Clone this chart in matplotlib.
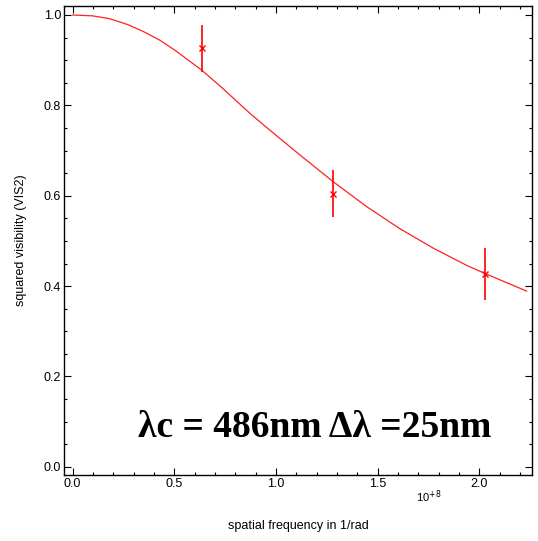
import matplotlib
matplotlib.use('Agg')
import matplotlib.pyplot as plt
from matplotlib.ticker import MultipleLocator

# model curve, spatial frequency in units of 1e8 / rad
freq_curve = [0.0, 0.10, 0.18, 0.27, 0.35, 0.43, 0.51, 0.635, 0.725, 0.873,
              1.0, 1.119, 1.282, 1.446, 1.610, 1.774, 1.938, 2.028, 2.233]
vis2_curve = [1.000, 0.998, 0.992, 0.979, 0.963, 0.944, 0.920, 0.878, 0.843, 0.782,
              0.734, 0.690, 0.631, 0.576, 0.527, 0.484, 0.446, 0.428, 0.389]

# measured points with error bars
freq_obs = [0.635, 1.282, 2.028]
vis2_obs = [0.926, 0.604, 0.427]
vis2_err = [0.052, 0.052, 0.057]

plt.rcParams['font.family'] = ['Liberation Sans', 'DejaVu Sans']

fig = plt.figure(figsize=(5.38, 5.41), dpi=100)
ax = fig.add_axes([0.119, 0.122, 0.870, 0.867])

ax.plot(freq_curve, vis2_curve, color='#ff2020', lw=0.9)
ax.errorbar(freq_obs, vis2_obs, yerr=vis2_err, fmt='x', color='#ff0000',
            ms=4, mew=1.0, elinewidth=1.2, capsize=0)

ax.set_xlim(-0.042, 2.26)
ax.set_ylim(-0.018, 1.02)
ax.xaxis.set_major_locator(MultipleLocator(0.5))
ax.xaxis.set_minor_locator(MultipleLocator(0.1))
ax.yaxis.set_major_locator(MultipleLocator(0.2))
ax.yaxis.set_minor_locator(MultipleLocator(0.05))
ax.xaxis.set_major_formatter(plt.FormatStrFormatter('%.1f'))
ax.yaxis.set_major_formatter(plt.FormatStrFormatter('%.1f'))
ax.tick_params(which='both', direction='in', top=True, right=True,
               labelsize=9, width=0.8)
ax.tick_params(which='major', length=5, pad=2)
ax.tick_params(which='minor', length=2.5)
for s in ax.spines.values():
    s.set_linewidth(1.0)

ax.set_xlabel('spatial frequency in 1/rad', fontsize=9, labelpad=22)
ax.set_ylabel('squared visibility (VIS2)', fontsize=9, labelpad=12)

fig.text(0.773, 0.081, '10$^{+8}$', fontsize=8, ha='left', va='center')

ax.text(0.157, 0.081, 'λc = 486nm Δλ =25nm', transform=ax.transAxes,
        fontsize=27, fontweight='bold', family=['Liberation Serif', 'DejaVu Serif'],
        ha='left', va='baseline')

fig.savefig('out.png', dpi=100)
